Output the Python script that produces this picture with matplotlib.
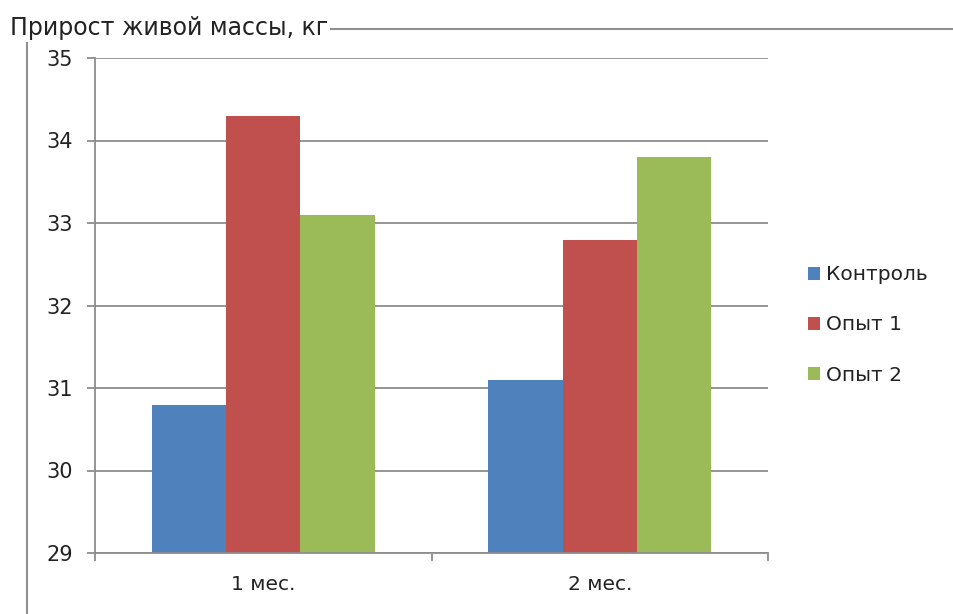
import matplotlib
matplotlib.use("Agg")
import matplotlib.pyplot as plt
from matplotlib.lines import Line2D
from matplotlib.patches import Patch
import numpy as np

# Live weight gain per month for the control group and two trial groups
categories = ["1 мес.", "2 мес."]
series_names = ["Контроль", "Опыт 1", "Опыт 2"]
control = [30.8, 31.1]
trial1 = [34.3, 32.8]
trial2 = [33.1, 33.8]
colors = ["#4f81bd", "#c0504d", "#9bbb59"]
title = "Прирост живой массы, кг"

plt.rcParams["font.family"] = ["DejaVu Sans"]

fig = plt.figure(figsize=(9.54, 6.14), dpi=100)
ax = fig.add_axes([95 / 954, 61 / 614, 673 / 954, 495 / 614])

x = np.arange(len(categories))
width = 0.221
for i, (vals, col) in enumerate(zip([control, trial1, trial2], colors)):
    ax.bar(x + (i - 1) * width, vals, width=width, color=col, zorder=3)

ax.set_xlim(-0.5, 1.5)
ax.set_ylim(29, 35)
ax.set_yticks(range(29, 36))
ax.set_xticks(x)
ax.set_xticklabels(categories)
ax.set_xticks([-0.5, 0.5, 1.5], minor=True)

grid_col = "#8c8c8c"
ax.yaxis.grid(True, color=grid_col, linewidth=1.3, zorder=0)
for side in ("top", "right"):
    ax.spines[side].set_visible(False)
for side in ("left", "bottom"):
    ax.spines[side].set_color(grid_col)
    ax.spines[side].set_linewidth(1.3)
    ax.spines[side].set_zorder(4)

ax.tick_params(axis="y", length=6, width=1.3, color=grid_col, labelsize=15,
               labelcolor="#222222", pad=10)
ax.tick_params(axis="x", which="major", length=0, labelsize=14.5,
               labelcolor="#222222", pad=16)
ax.tick_params(axis="x", which="minor", length=6, width=1.3, color=grid_col)

handles = [Patch(facecolor=c, edgecolor="none") for c in colors]
fig.legend(handles, series_names, loc="center left",
           bbox_to_anchor=(790 / 954, 1 - 325 / 614), frameon=False,
           fontsize=14.5, handlelength=0.6, handleheight=0.6,
           handletextpad=0.3, labelspacing=1.55, labelcolor="#222222")

# Chart frame with the title sitting on its top edge
fig.text(10 / 954, 1 - 28 / 614, title, fontsize=17, color="#222222",
         va="center", ha="left")
fig.add_artist(Line2D([331 / 954, 1.0], [1 - 29 / 614, 1 - 29 / 614],
                      transform=fig.transFigure, color="#909090", linewidth=1.5))
fig.add_artist(Line2D([27 / 954, 27 / 954], [1 - 43 / 614, 0.0],
                      transform=fig.transFigure, color="#909090", linewidth=1.5))

fig.savefig("out.png", dpi=100, facecolor="white")
